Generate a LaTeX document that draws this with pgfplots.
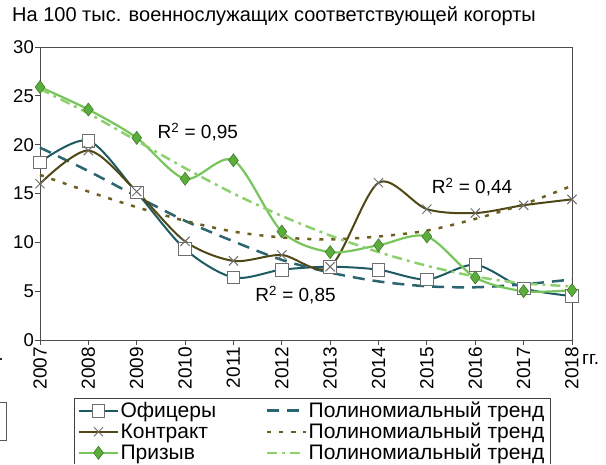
\documentclass[border=0pt]{standalone}
\usepackage{pgfplots}
\pgfplotsset{compat=1.18}
\usepackage{fontspec}
\setmainfont{Liberation Sans}
\definecolor{offc}{HTML}{1E5A63}
\definecolor{conc}{HTML}{4F4715}
\definecolor{prizc}{HTML}{78C55C}
\definecolor{prizm}{HTML}{5BAE3B}
\definecolor{mkgray}{HTML}{6E6E6E}
\definecolor{offt}{HTML}{2B6670}
\definecolor{cont}{HTML}{6E5E22}
\definecolor{prizt}{HTML}{8DD06E}
\begin{document}
\begin{tikzpicture}
\useasboundingbox (0pt,0pt) rectangle (606pt,464pt);
\clip (0pt,0pt) rectangle (606pt,464pt);
\node[anchor=base west,font=\fontsize{20}{22}\selectfont,inner sep=0pt] at (12pt,442pt) {На 100 тыс. военнослужащих соответствующей когорты};
\node[anchor=base west,font=\fontsize{18}{20}\selectfont,inner sep=0pt] at (-6pt,103pt) {г.};
\draw[gray!70!black,line width=0.8pt] (-10pt,62pt) rectangle (6pt,24pt);
\begin{axis}[
  at={(40pt,124pt)}, anchor=south west,
  scale only axis, width=532pt, height=293pt,
  xmin=2007, xmax=2018, ymin=0, ymax=30,
  xtick={2007,...,2018}, ytick={0,5,...,30},
  /pgf/number format/assume math mode=true,
  xticklabel={\pgfmathprintnumber[1000 sep={}]{\tick}},
  xticklabel style={rotate=90,anchor=east,font=\fontsize{19}{21}\selectfont,inner sep=2pt},
  yticklabel style={font=\fontsize{18.5}{20}\selectfont,inner sep=1pt},
  tick align=outside, tick pos=left,
  major tick length=5pt,
  axis line style={gray!60!black,line width=0.8pt},
  tick style={gray!60!black,line width=0.8pt},
  axis x line*=bottom, axis y line*=left,
  clip=false,
  legend columns=2,
  legend style={at={(0.512,-0.197)},anchor=north,draw=gray!50!black,line width=0.8pt,
     font=\fontsize{21}{22}\selectfont,row sep=0pt,inner xsep=4pt,inner ysep=2pt,
     /tikz/every even column/.append style={column sep=48pt}},
  legend cell align=left,
  legend image code/.code={\draw[mark repeat=2,mark phase=2,#1] plot coordinates {(0pt,0pt) (19pt,0pt) (38pt,0pt)};},
]
\draw[gray!60!black,line width=0.8pt] (rel axis cs:0,1) -- (rel axis cs:1,1) -- (rel axis cs:1,0);
% Officers
\addplot[offc,line width=2pt,smooth,tension=0.5,mark=square*,mark size=6.3pt,
  mark options={fill=white,draw=mkgray,line width=0.8pt,solid}] coordinates {
(2007,18.2) (2008,20.4) (2009,15.1) (2010,9.3) (2011,6.4) (2012,7.2) (2013,7.5) (2014,7.2) (2015,6.2) (2016,7.7) (2017,5.3) (2018,4.5)};
\addlegendentry{Офицеры}
\addplot[offt,line width=2.5pt,dash pattern=on 12pt off 8pt,smooth] coordinates {
(2007,19.7) (2008,17.3) (2009,14.7) (2010,12.2) (2011,10.1) (2012,8.2) (2013,6.9) (2014,6.0) (2015,5.5) (2016,5.4) (2017,5.7) (2018,6.2)};
\addlegendentry{Полиномиальный тренд}
% Contract
\addplot[conc,line width=2pt,smooth,tension=0.5,mark=x,mark size=6.5pt,
  mark options={draw=mkgray,line width=1pt,solid}] coordinates {
(2007,16.0) (2008,19.4) (2009,15.2) (2010,10.1) (2011,8.1) (2012,8.7) (2013,7.5) (2014,16.1) (2015,13.4) (2016,13.0) (2017,13.8) (2018,14.4)};
\addlegendentry{Контракт}
\addplot[cont,line width=2.5pt,dash pattern=on 4pt off 8pt,smooth] coordinates {
(2007,16.9) (2008,15.2) (2009,13.6) (2010,12.2) (2011,11.1) (2012,10.5) (2013,10.3) (2014,10.6) (2015,11.2) (2016,12.4) (2017,13.9) (2018,15.8)};
\addlegendentry{Полиномиальный тренд}
% Conscripts
\addplot[prizc,line width=2.2pt,smooth,tension=0.5,mark=diamond*,mark size=6.5pt,
  mark options={fill=prizm,draw=prizm!70!black,line width=0.6pt,solid}] coordinates {
(2007,25.9) (2008,23.6) (2009,20.7) (2010,16.5) (2011,18.4) (2012,11.1) (2013,9.0) (2014,9.7) (2015,10.6) (2016,6.4) (2017,5.0) (2018,5.1)};
\addlegendentry{Призыв}
\addplot[prizt,line width=2.5pt,dash pattern=on 10pt off 5pt on 3pt off 5pt,smooth] coordinates {
(2007,25.7) (2008,23.2) (2009,20.4) (2010,17.6) (2011,15.0) (2012,12.7) (2013,10.7) (2014,9.0) (2015,7.6) (2016,6.5) (2017,5.8) (2018,5.5)};
\addlegendentry{Полиномиальный тренд}
\node[anchor=base west,font=\fontsize{19}{20}\selectfont,inner sep=0pt] at (axis cs:2009.43,20.6) {R\textsuperscript{2} = 0,95};
\node[anchor=base west,font=\fontsize{19}{20}\selectfont,inner sep=0pt] at (axis cs:2015.1,15.0) {R\textsuperscript{2} = 0,44};
\node[anchor=base west,font=\fontsize{19}{20}\selectfont,inner sep=0pt] at (axis cs:2011.45,3.9) {R\textsuperscript{2} = 0,85};
\node[anchor=base west,font=\fontsize{19}{21}\selectfont,inner sep=0pt] at (axis cs:2018,0) [xshift=10pt,yshift=-24pt] {гг.};
\end{axis}
\end{tikzpicture}
\end{document}
